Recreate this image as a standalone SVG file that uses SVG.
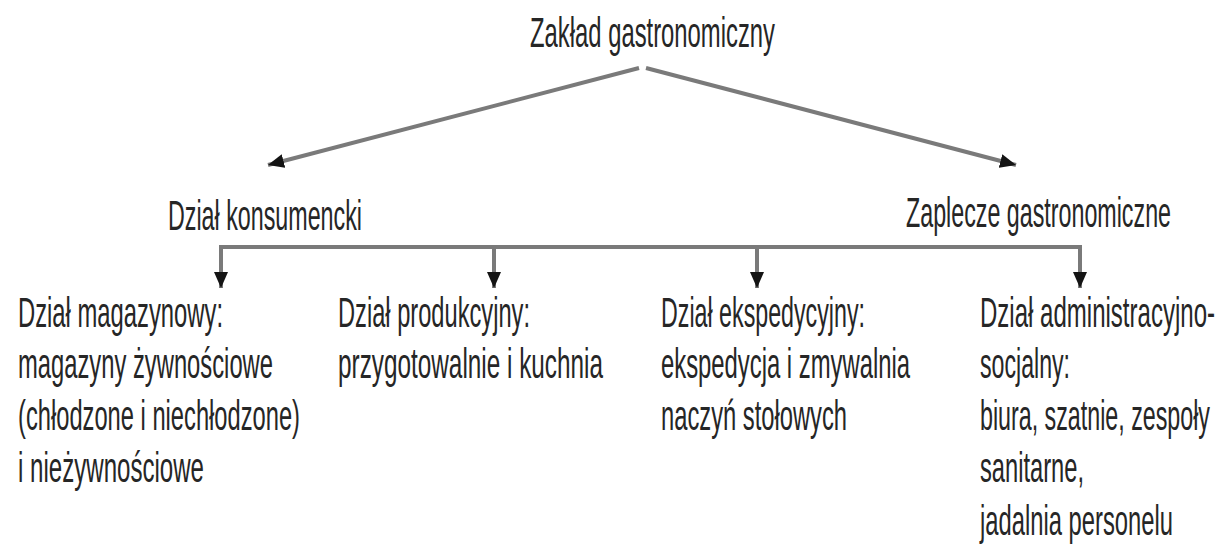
<svg xmlns="http://www.w3.org/2000/svg" width="1220" height="544" viewBox="0 0 1220 544">
<style>
text{font-family:"Liberation Sans Narrow","Liberation Sans",Arial,sans-serif;font-size:43px;fill:#262626;}
.ln{stroke:#7a7a7a;stroke-width:4;fill:none;}
</style>
<defs>
<marker id="ah" markerUnits="userSpaceOnUse" markerWidth="18" markerHeight="14" refX="16" refY="7" orient="auto">
<path d="M0,0 L16,7 L0,14 Z" fill="#141414"/>
</marker>
</defs>
<rect width="1220" height="544" fill="#ffffff"/>
<g id="connectors">
<line class="ln" x1="639" y1="68" x2="268" y2="165" marker-end="url(#ah)"/>
<line class="ln" x1="646" y1="68" x2="1016" y2="165" marker-end="url(#ah)"/>
<polyline class="ln" points="221,260 221,247 1080,247 1080,260"/>
<line class="ln" x1="221" y1="249" x2="221" y2="288" marker-end="url(#ah)"/>
<line class="ln" x1="494" y1="247" x2="494" y2="288" marker-end="url(#ah)"/>
<line class="ln" x1="757" y1="247" x2="757" y2="288" marker-end="url(#ah)"/>
<line class="ln" x1="1080" y1="249" x2="1080" y2="288" marker-end="url(#ah)"/>
</g>
<g id="root"><text x="530" y="47" textLength="245" lengthAdjust="spacingAndGlyphs">Zakład gastronomiczny</text></g>
<g id="konsumencki"><text x="168" y="230" textLength="194" lengthAdjust="spacingAndGlyphs">Dział konsumencki</text></g>
<g id="zaplecze"><text x="906" y="227" textLength="265" lengthAdjust="spacingAndGlyphs">Zaplecze gastronomiczne</text></g>
<g id="magazynowy">
<text x="18" y="327" textLength="205" lengthAdjust="spacingAndGlyphs">Dział magazynowy:</text>
<text x="18" y="378" textLength="255" lengthAdjust="spacingAndGlyphs">magazyny żywnościowe</text>
<text x="18" y="430" textLength="282" lengthAdjust="spacingAndGlyphs">(chłodzone i niechłodzone)</text>
<text x="18" y="482" textLength="186" lengthAdjust="spacingAndGlyphs">i nieżywnościowe</text>
</g>
<g id="produkcyjny">
<text x="338" y="327" textLength="192" lengthAdjust="spacingAndGlyphs">Dział produkcyjny:</text>
<text x="338" y="378" textLength="265" lengthAdjust="spacingAndGlyphs">przygotowalnie i kuchnia</text>
</g>
<g id="ekspedycyjny">
<text x="661" y="327" textLength="204" lengthAdjust="spacingAndGlyphs">Dział ekspedycyjny:</text>
<text x="661" y="378" textLength="249" lengthAdjust="spacingAndGlyphs">ekspedycja i zmywalnia</text>
<text x="661" y="430" textLength="186" lengthAdjust="spacingAndGlyphs">naczyń stołowych</text>
</g>
<g id="administracyjny">
<text x="980" y="327" textLength="235" lengthAdjust="spacingAndGlyphs">Dział administracyjno-</text>
<text x="980" y="378" textLength="90" lengthAdjust="spacingAndGlyphs">socjalny:</text>
<text x="980" y="430" textLength="230" lengthAdjust="spacingAndGlyphs">biura, szatnie, zespoły</text>
<text x="980" y="482" textLength="104" lengthAdjust="spacingAndGlyphs">sanitarne,</text>
<text x="980" y="535" textLength="193" lengthAdjust="spacingAndGlyphs">jadalnia personelu</text>
</g>
</svg>
